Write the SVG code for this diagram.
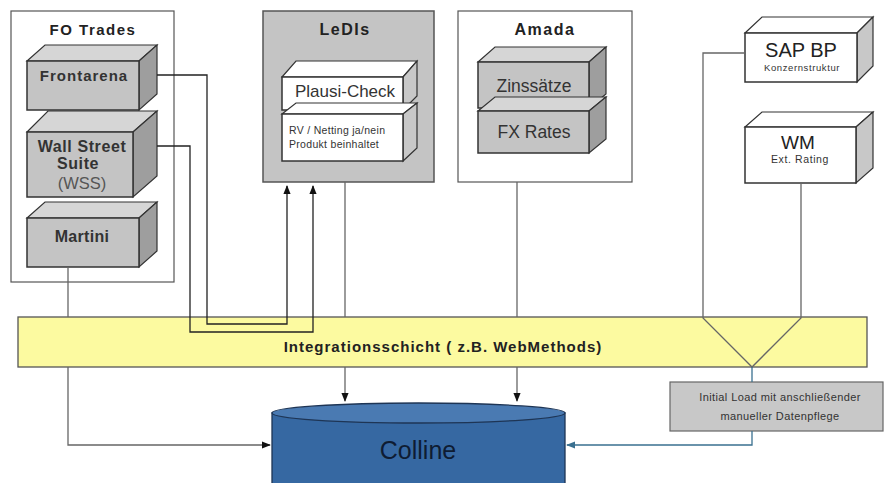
<svg xmlns="http://www.w3.org/2000/svg" width="885" height="483" viewBox="0 0 885 483">
<defs>
<style>
text{font-family:"Liberation Sans",Arial,sans-serif;}
.cont{fill:#fff;stroke:#555;stroke-width:1.2;}
.front{stroke:#333;stroke-width:1.5;}
.g .front{fill:#C4C4C4;}
.g .top{fill:#D6D6D6;stroke:#333;stroke-width:1.2;}
.g .side{fill:#9E9E9E;stroke:#333;stroke-width:1.2;}
.w .front{fill:#fff;}
.w .top{fill:#fff;stroke:#333;stroke-width:1.2;}
.w .side{fill:#C8C8C8;stroke:#333;stroke-width:1.2;}
.title{font-size:15px;font-weight:bold;fill:#222;text-anchor:middle;letter-spacing:1.5px;}
.bl{font-size:15px;font-weight:bold;fill:#333;text-anchor:middle;letter-spacing:1px;}
.ln{fill:none;stroke:#666;stroke-width:1.3;}
.lk{fill:none;stroke:#222;stroke-width:1.3;}
.lb{fill:none;stroke:#3A7090;stroke-width:1.3;}
</style>
<marker id="ak" viewBox="0 0 10 10" refX="9" refY="5" markerWidth="7" markerHeight="7" orient="auto"><path d="M0,1 L10,5 L0,9 z" fill="#111"/></marker>
<marker id="ab" viewBox="0 0 10 10" refX="9" refY="5" markerWidth="7" markerHeight="7" orient="auto"><path d="M0,1 L10,5 L0,9 z" fill="#3A7090"/></marker>
</defs>

<g id="fo-trades">
<rect class="cont" x="11" y="11" width="163" height="271"/>
<text class="title" x="93" y="35">FO Trades</text>
</g>
<g id="frontarena" class="g">
<polygon class="top" points="27,61 45,45 157,45 139,61"/>
<polygon class="side" points="139,61 157,45 157,94 139,110"/>
<rect class="front" x="27" y="61" width="112" height="49"/>
<text class="bl" x="84" y="81">Frontarena</text>
</g>
<g id="wss" class="g">
<polygon class="top" points="27,132 48,111 157,111 133,132"/>
<polygon class="side" points="133,132 157,111 157,176 133,197"/>
<rect class="front" x="27" y="132" width="106" height="65"/>
<text class="bl" x="82" y="152" style="font-size:16px;letter-spacing:0.6px">Wall Street</text>
<text class="bl" x="78" y="169" style="font-size:16px;letter-spacing:0.6px">Suite</text>
<text x="82" y="189" style="font-size:16.5px;fill:#555;text-anchor:middle">(WSS)</text>
</g>
<g id="martini" class="g">
<polygon class="top" points="27,218 45,202 157,202 139,218"/>
<polygon class="side" points="139,218 157,202 157,251 139,267"/>
<rect class="front" x="27" y="218" width="112" height="49"/>
<text class="bl" x="82" y="242" style="font-size:16px;letter-spacing:0.3px">Martini</text>
</g>

<g id="ledis">
<rect x="263" y="11" width="171" height="171" style="fill:#C4C4C4;stroke:#555;stroke-width:1.5"/>
<text class="title" x="345" y="35" style="font-size:16px">LeDIs</text>
</g>
<g id="plausi-check" class="w">
<polygon class="top" points="282,77 296,61 417,61 403,77"/>
<polygon class="side" points="403,77 417,61 417,96 403,110"/>
<rect class="front" x="282" y="77" width="121" height="33"/>
<text x="345" y="97" style="font-size:17px;fill:#333;text-anchor:middle">Plausi-Check</text>
</g>
<g id="rv-netting" class="w">
<polygon class="top" points="282,114 296,103 417,103 403,114"/>
<polygon class="side" points="403,114 417,103 417,148 403,161"/>
<rect class="front" x="282" y="114" width="121" height="47"/>
<text x="289" y="134" style="font-size:10.5px;fill:#333;letter-spacing:0.3px">RV / Netting ja/nein</text>
<text x="289" y="148" style="font-size:10.5px;fill:#333;letter-spacing:0.3px">Produkt beinhaltet</text>
</g>

<g id="amada">
<rect class="cont" x="458" y="11" width="174" height="171"/>
<text class="title" x="545" y="35" style="font-size:16px">Amada</text>
</g>
<g id="zinssaetze" class="g">
<polygon class="top" points="478,62 495,47 606,47 589,62"/>
<polygon class="side" points="589,62 606,47 606,94 589,108"/>
<rect class="front" x="478" y="62" width="111" height="46"/>
<text x="534" y="92" style="font-size:17.5px;fill:#333;text-anchor:middle">Zinssätze</text>
</g>
<g id="fx-rates" class="g">
<polygon class="top" points="478,111 495,97 606,97 589,111"/>
<polygon class="side" points="589,111 606,97 606,139 589,153"/>
<rect class="front" x="478" y="111" width="111" height="42"/>
<text x="534" y="138" style="font-size:17.5px;fill:#333;text-anchor:middle">FX Rates</text>
</g>

<g id="sap-bp" class="w">
<polygon class="top" points="745,33 762,17 873,17 857,33"/>
<polygon class="side" points="857,33 873,17 873,66 857,82"/>
<rect class="front" x="745" y="33" width="112" height="49"/>
<text x="801" y="57" style="font-size:20px;fill:#222;text-anchor:middle">SAP BP</text>
<text x="802" y="71" style="font-size:9.5px;fill:#333;text-anchor:middle;letter-spacing:0.6px">Konzernstruktur</text>
</g>
<g id="wm" class="w">
<polygon class="top" points="745,127 762,112 873,112 856,127"/>
<polygon class="side" points="856,127 873,112 873,168 856,183"/>
<rect class="front" x="745" y="127" width="111" height="56"/>
<text x="798" y="149" style="font-size:19px;fill:#222;text-anchor:middle">WM</text>
<text x="800" y="163" style="font-size:10.5px;fill:#333;text-anchor:middle;letter-spacing:0.6px">Ext. Rating</text>
</g>

<g id="integrationsschicht">
<rect x="18" y="317" width="849" height="50" style="fill:#FCFAA0;stroke:#555;stroke-width:1.3"/>
</g>

<g id="initial-load">
<rect x="670" y="382" width="213" height="49" style="fill:#C8C8C8;stroke:#666;stroke-width:1.2"/>
<text x="780" y="401" style="font-size:11px;fill:#333;text-anchor:middle;letter-spacing:0.4px">Initial Load mit anschließender</text>
<text x="780" y="420" style="font-size:11px;fill:#333;text-anchor:middle;letter-spacing:0.4px">manueller Datenpflege</text>
</g>

<g id="colline">
<path d="M272,413 L272,490 L565,490 L565,413 Z" style="fill:#3668A2;stroke:#1E3555;stroke-width:1.3"/>
<ellipse cx="418.5" cy="413" rx="146.5" ry="10" style="fill:#4A7AB2;stroke:#1E3555;stroke-width:1.3"/>
<text x="418" y="459" style="font-size:25px;fill:#0E1C33;text-anchor:middle">Colline</text>
</g>

<g id="connectors">
<polyline class="lk" points="157,75 207,75 207,324 287,324 287,186" marker-end="url(#ak)"/>
<polyline class="lk" points="157,146 190,146 190,332 313,332 313,186" marker-end="url(#ak)"/>
<polyline class="ln" points="68,267 68,317"/>
<polyline class="ln" points="68,367 68,445 270,445" marker-end="url(#ak)"/>
<polyline class="ln" points="345,182 345,317"/>
<polyline class="ln" points="345,367 345,401" marker-end="url(#ak)"/>
<polyline class="ln" points="517,182 517,317"/>
<polyline class="ln" points="517,367 517,401" marker-end="url(#ak)"/>
<polyline class="ln" points="745,53 703,53 703,318 752,367 801,318 801,183"/>
<polyline class="lb" points="752,367 752,382"/>
<polyline class="lb" points="752,431 752,445 567,445" marker-end="url(#ab)"/>
</g>
<text x="443" y="352" style="font-size:15px;font-weight:bold;fill:#222;text-anchor:middle;letter-spacing:1px">Integrationsschicht ( z.B. WebMethods)</text>
</svg>
